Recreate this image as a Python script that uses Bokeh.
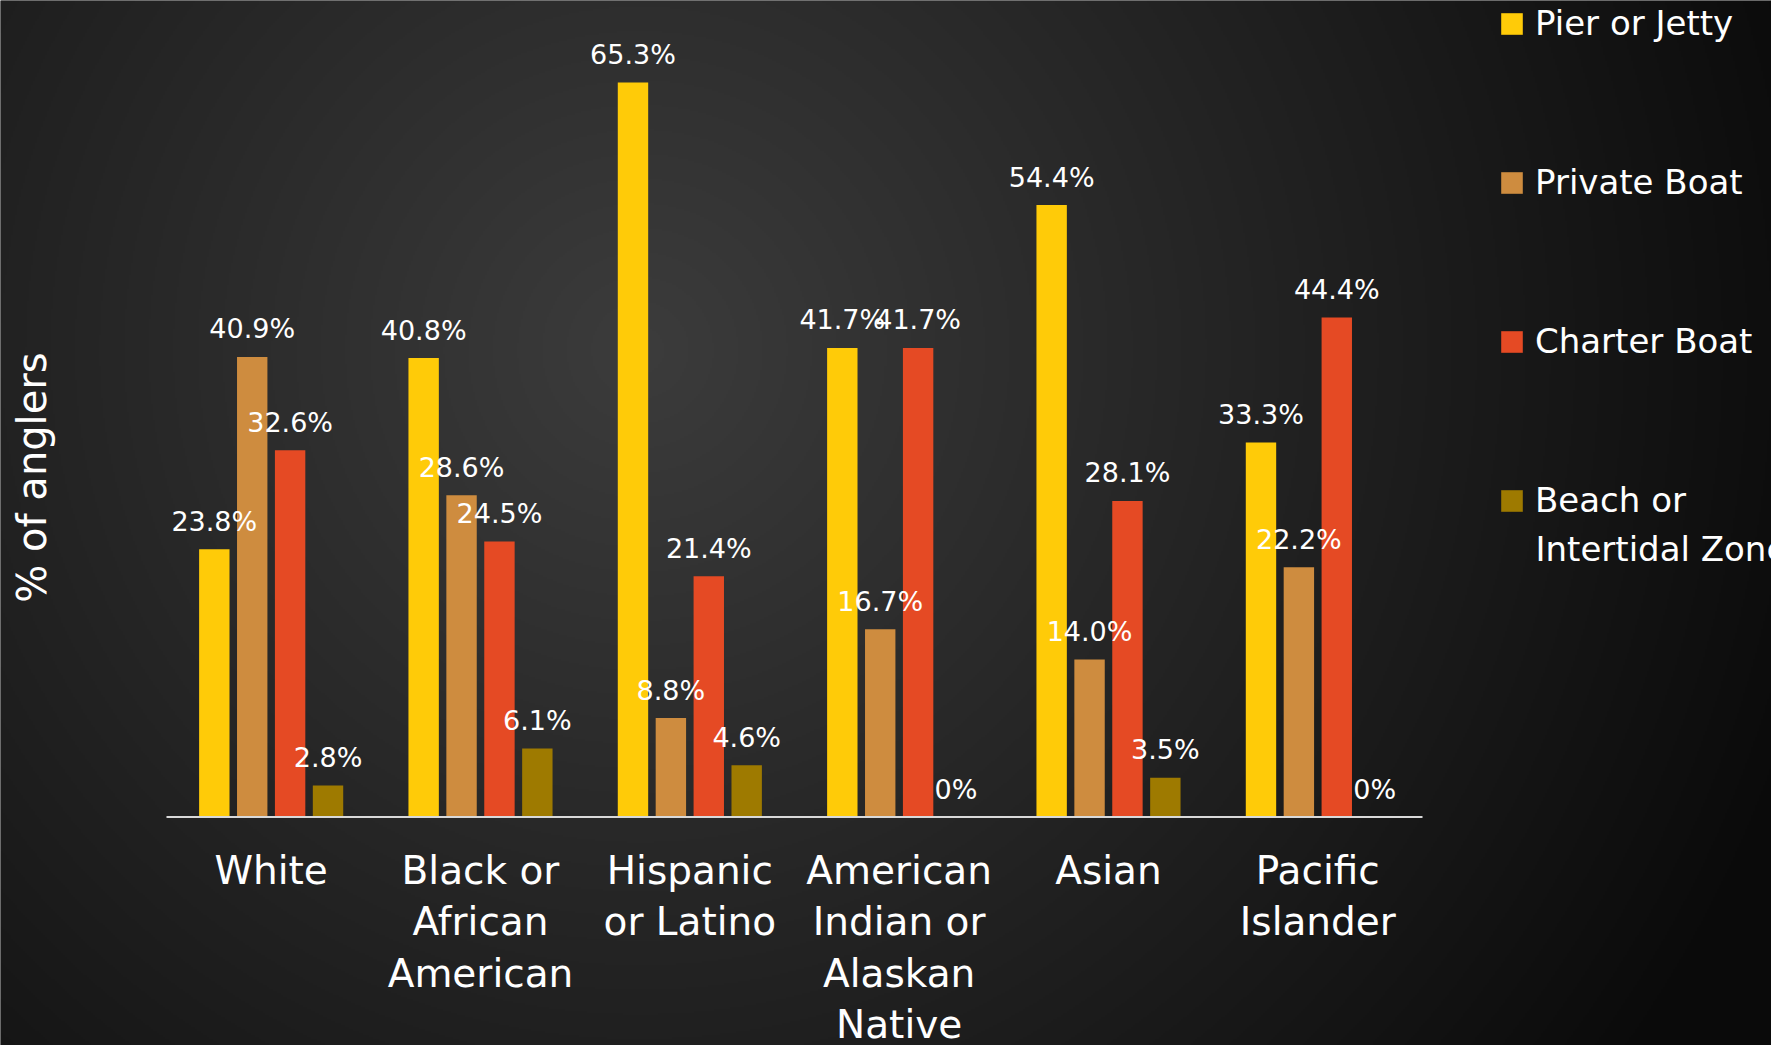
import numpy as np
from bokeh.plotting import figure
from bokeh.models import Range1d, ColumnDataSource, Legend, LegendItem, Label
from bokeh.transform import dodge
from bokeh.core.properties import value
from bokeh.embed import file_html
from bokeh.resources import INLINE

# ---------------- data ----------------
categories = ["White", "Black or\nAfrican\nAmerican", "Hispanic\nor Latino",
              "American\nIndian or\nAlaskan\nNative", "Asian", "Pacific\nIslander"]
series_names = ["Pier or Jetty", "Private Boat", "Charter Boat", "Beach or", "Intertidal Zone"]
pier = [23.8, 40.8, 65.3, 41.7, 54.4, 33.3]
private_boat = [40.9, 28.6, 8.8, 16.7, 14.0, 22.2]
charter_boat = [32.6, 24.5, 21.4, 41.7, 28.1, 44.4]
beach = [2.8, 6.1, 4.6, 0.0, 3.5, 0.0]
y_title = "% of anglers"

# ---------------- layout / style ----------------
W, H = 1771, 1045
AX_L, AX_R = 166, 1422
CAT_PX = (AX_R - AX_L) / len(categories)
BASE_PX = 816.5
PX_PER_PCT = 11.25
SLOT = 37.9 / CAT_PX
BAR_W = 30.4 / CAT_PX
FONT = value("DejaVu Sans")
colors = ["#FFCB08", "#CE8C3F", "#E54A24", "#9E7A00"]

x_range = Range1d(-AX_L / CAT_PX, (W - AX_L) / CAT_PX)
y_range = Range1d(-(H - BASE_PX) / PX_PER_PCT, BASE_PX / PX_PER_PCT)

p = figure(width=W, height=H, x_range=x_range, y_range=y_range,
           output_backend="svg", toolbar_location=None,
           x_axis_type=None, y_axis_type=None, min_border=0)
p.grid.visible = False
p.outline_line_color = None
p.background_fill_color = "#151515"
p.border_fill_color = "#151515"

# background radial gradient (decoration)
gw, gh = W // 2, H // 2
xx, yy = np.meshgrid((np.arange(gw) + 0.5) * W / gw, (np.arange(gh) + 0.5) * H / gh)
d = np.hypot(xx - 640, yy - 350)
g = (10 + 50 * (1 - np.clip(d / 1230, 0, 1))).astype(np.uint8)
img = np.empty((gh, gw), dtype=np.uint32)
view = img.view(np.uint8).reshape(gh, gw, 4)
view[..., 0] = g
view[..., 1] = g
view[..., 2] = g
view[..., 3] = 255
p.image_rgba(image=[img[::-1]], x=x_range.start, y=y_range.start,
             dw=x_range.end - x_range.start, dh=y_range.end - y_range.start)

def fmt(v):
    return "0%" if v == 0 else f"{v:.1f}%"

series = [pier, private_boat, charter_boat, beach]
keys = ["pier", "private", "charter", "beach"]
data = dict(x=np.arange(len(categories)) + 0.5, cat=categories)
for k, s in zip(keys, series):
    data[k] = s
    data[k + "_lbl"] = [fmt(v) for v in s]
src = ColumnDataSource(data)

renderers = []
for i, (k, c) in enumerate(zip(keys, colors)):
    off = (i - 1.5) * SLOT
    r = p.vbar(x=dodge("x", off), top=k, bottom=0, width=BAR_W, source=src,
               fill_color=c, line_color=None)
    renderers.append(r)

for i, k in enumerate(keys):
    off = (i - 1.5) * SLOT
    p.text(x=dodge("x", off), y=k, text=k + "_lbl", source=src,
           text_align="center", text_baseline="alphabetic", y_offset=-28,
           text_color="#FFFFFF", text_font=FONT, text_font_size="27px")

# baseline
p.segment(x0=0, y0=0, x1=len(categories), y1=0, line_color="#D9D9D9", line_width=2)

# category labels
p.text(x="x", y=0, text="cat", source=src, text_align="center", text_baseline="top",
       y_offset=31, text_color="#FFFFFF", text_font=FONT, text_font_size="39px",
       text_line_height=1.14)

# y-axis title
p.add_layout(Label(x=31.5, y=H - 477, x_units="screen", y_units="screen", text=y_title,
                   angle=np.pi / 2, text_align="center", text_baseline="alphabetic",
                   text_color="#FFFFFF", text_font="DejaVu Sans", text_font_size="40px"))

legend = Legend(items=[LegendItem(label=value(n), renderers=[r]) for n, r in zip(series_names[:4], renderers)],
                location=(1498, 525), orientation="vertical",
                glyph_width=27, glyph_height=27, label_standoff=10, spacing=119,
                padding=0, margin=0, background_fill_alpha=0, border_line_alpha=0,
                label_text_color="#FFFFFF", label_text_font="DejaVu Sans",
                label_text_font_size="34px")
p.add_layout(legend)
# second line of the last legend entry
p.add_layout(Label(x=1535, y=H - 548, x_units="screen", y_units="screen", text=series_names[4],
                   text_align="left", text_baseline="alphabetic",
                   text_color="#FFFFFF", text_font="DejaVu Sans", text_font_size="34px"))

open("out.html", "w").write(file_html(p, INLINE))
